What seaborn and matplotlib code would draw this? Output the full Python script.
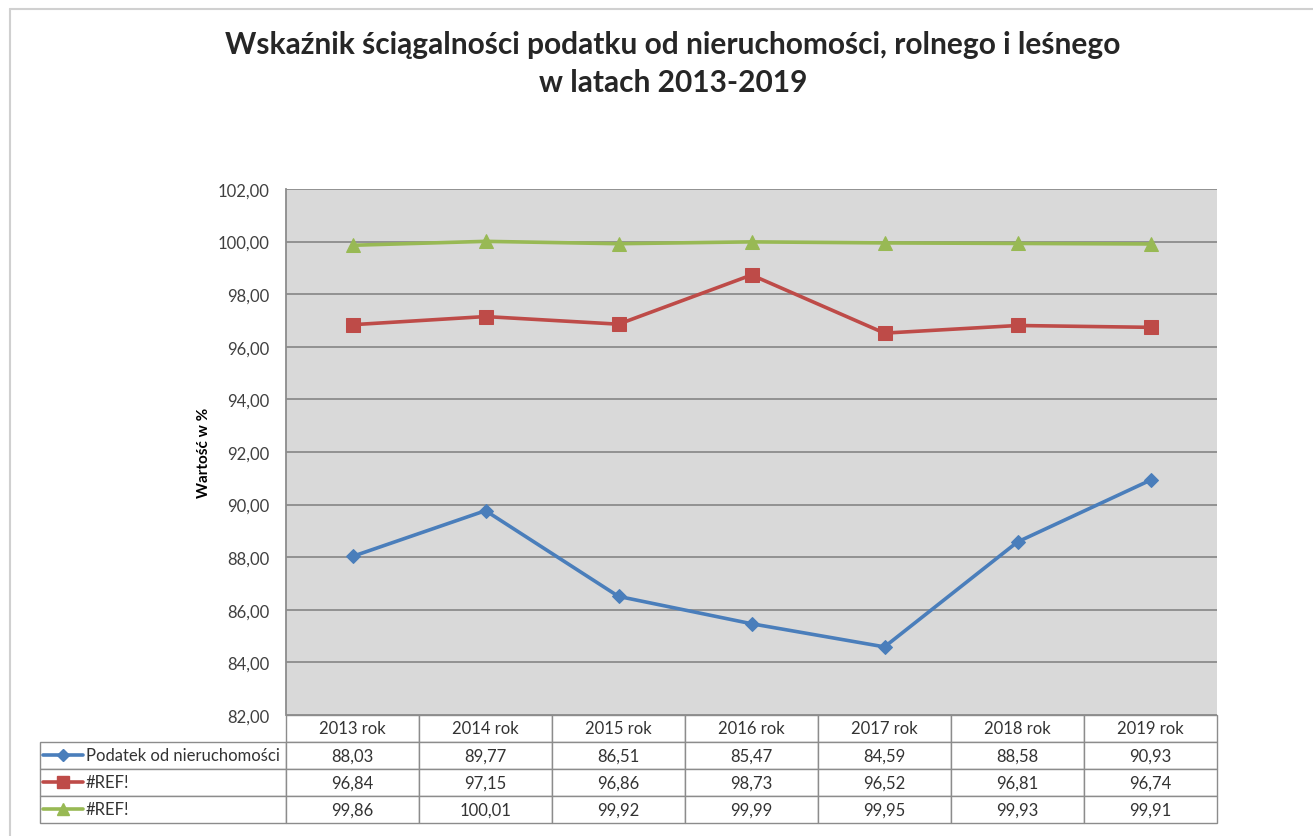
#!/usr/bin/env python3
"""Wskaznik sciagalnosci podatku - line chart with Excel-style data table."""

import numpy as np
import pandas as pd
import matplotlib
matplotlib.use("Agg")
import matplotlib.pyplot as plt
import seaborn as sns
from matplotlib.lines import Line2D
from matplotlib.table import Table
from matplotlib.ticker import FuncFormatter

YEARS = ["2013 rok", "2014 rok", "2015 rok", "2016 rok", "2017 rok", "2018 rok", "2019 rok"]
SERIES_LABELS = ["Podatek od nieruchomości", "#REF!", "#REF!"]
PODATEK = [88.03, 89.77, 86.51, 85.47, 84.59, 88.58, 90.93]
ROLNY = [96.84, 97.15, 96.86, 98.73, 96.52, 96.81, 96.74]
LESNY = [99.86, 100.01, 99.92, 99.99, 99.95, 99.93, 99.91]
COLORS = ["#4A7EBB", "#BE4B48", "#98B954"]
MARKERS = ["D", "s", "^"]
MSIZES = [7, 10, 10]

W, H = 1313, 837


def fmt(v):
    return f"{v:.2f}".replace(".", ",")


def main():
    sns.set_style("white")
    plt.rcParams["font.family"] = ["Lato", "DejaVu Sans"]

    df = pd.DataFrame({"x": list(range(len(YEARS))) * 3,
                       "val": PODATEK + ROLNY + LESNY,
                       "s": np.repeat([0, 1, 2], len(YEARS))})

    fig = plt.figure(figsize=(W / 100, H / 100), dpi=100)
    # plot area in pixels: x 286..1217, y 190..716
    ax = fig.add_axes([286 / W, (H - 716) / H, 931 / W, 526 / H])
    ax.set_facecolor("#D9D9D9")

    for i in range(3):
        sns.lineplot(data=df[df["s"] == i], x="x", y="val", ax=ax,
                     color=COLORS[i], marker=MARKERS[i], markersize=MSIZES[i],
                     markeredgecolor=COLORS[i], lw=2.6, zorder=3 + i)

    ax.set_xlim(-0.5, len(YEARS) - 0.5)
    ax.set_ylim(82, 102)
    ax.set_yticks(np.arange(82, 103, 2))
    ax.yaxis.set_major_formatter(FuncFormatter(lambda v, p: fmt(v)))
    ax.set_xticks([])
    ax.set_xlabel("")
    ax.grid(axis="y", color="#8C8C8C", lw=1.3)
    ax.set_axisbelow(True)
    ax.tick_params(axis="y", length=0, pad=12, labelsize=12, labelcolor="#404040")
    for s in ["top", "right", "bottom"]:
        ax.spines[s].set_visible(False)
    ax.spines["left"].set_color("#8C8C8C")
    ax.spines["left"].set_linewidth(1.3)

    ax.set_ylabel("Wartość w %", fontsize=11, fontweight="bold", color="black")
    ax.yaxis.set_label_coords((211 - 286) / 931, 0.5)

    # data table under the plot (x 40..1217, y 716..824)
    tw = (1217 - 40) / 931
    th = (824 - 716) / 526
    tab = Table(ax, bbox=[(40 - 286) / 931, -th, tw, th])
    lab_w, col_w, row_h = 246, 133, 27
    for j, yr in enumerate(YEARS):
        tab.add_cell(0, j + 1, width=col_w, height=row_h, text=yr, loc="center")
    for i, vals in enumerate([PODATEK, ROLNY, LESNY]):
        c = tab.add_cell(i + 1, 0, width=lab_w, height=row_h,
                         text=SERIES_LABELS[i], loc="left")
        c.PAD = 46 / 246
        for j, v in enumerate(vals):
            tab.add_cell(i + 1, j + 1, width=col_w, height=row_h, text=fmt(v), loc="center")
    tab.auto_set_font_size(False)
    tab.set_fontsize(12)
    for cell in tab.get_celld().values():
        cell.set_edgecolor("#8C8C8C")
        cell.set_linewidth(1.0)
        cell.get_text().set_color("#333333")
    ax.add_table(tab)

    # legend keys inside the row labels
    for i in range(3):
        yc = (716 - (756 + 27 * i)) / 526
        x0, x1 = (43 - 286) / 931, (83 - 286) / 931
        ax.add_line(Line2D([x0, (x0 + x1) / 2, x1], [yc] * 3, transform=ax.transAxes,
                           color=COLORS[i], lw=2.6, marker=MARKERS[i],
                           markersize=MSIZES[i] - 1, markevery=[1],
                           clip_on=False))

    fig.text(673 / W, 1 - 64 / H,
             "Wskaźnik ściągalności podatku od nieruchomości, rolnego i leśnego\nw latach 2013-2019",
             ha="center", va="center", fontsize=21.5, fontweight="bold",
             linespacing=1.45)

    # outer chart frame
    fig.add_artist(Line2D([10 / W, 10 / W], [0, 1 - 10 / H], color="#D0D0D0", lw=1.5))
    fig.add_artist(Line2D([10 / W, 1], [1 - 10 / H, 1 - 10 / H], color="#D0D0D0", lw=1.5))

    fig.savefig("out.png", dpi=100)
    plt.close(fig)


if __name__ == "__main__":
    main()
